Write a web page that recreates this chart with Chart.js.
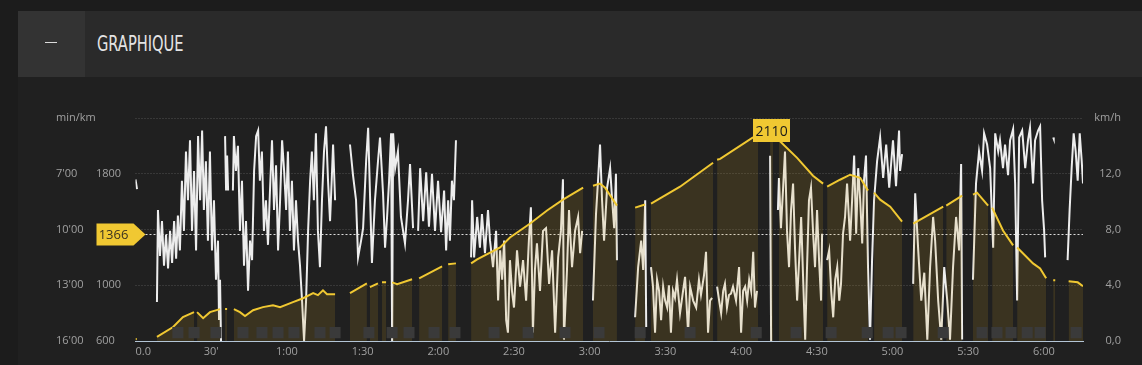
<!DOCTYPE html>
<html lang="fr">
<head>
<meta charset="utf-8">
<title>Graphique</title>
<script src="https://cdn.jsdelivr.net/npm/chart.js@4.4.1/dist/chart.umd.min.js"></script>
<style>
  html, body { margin: 0; padding: 0; }
  body { width: 1142px; height: 365px; overflow: hidden; background: #1c1c1c; position: relative; font-family: "Open Sans", sans-serif; }
  .panel { position: absolute; left: 18px; top: 11px; right: 0; bottom: 0; background: #202020; }
  .header { position: relative; height: 66px; background: #2a2a2a; }
  .toggle { position: absolute; left: 0; top: 0; width: 67px; height: 66px; background: #333; }
  .toggle span { position: absolute; left: 27px; top: 31px; width: 12px; height: 1px; background: #dcdcdc; }
  .title { position: absolute; left: 79px; top: 0; line-height: 66px; color: #e4e4e4; font-family: "DejaVu Sans Condensed", "DejaVu Sans", sans-serif; font-size: 22px; transform: scaleX(0.74); transform-origin: left center; }
  #chart { position: absolute; left: 0; top: 66px; }
</style>
</head>
<body>
<div class="panel">
  <div class="header">
    <div class="toggle"><span></span></div>
    <div class="title">GRAPHIQUE</div>
  </div>
  <canvas id="chart" width="1124" height="288"></canvas>
</div>
<script>
// graphique : altitude (m) + vitesse (km/h) sur le temps (min)

const xTicks = [0, 30, 60, 90, 120, 150, 180, 210, 240, 270, 300, 330, 360, 375.5];
const xLabels = ["0.0", "30'", "1:00", "1:30", "2:00", "2:30", "3:00", "3:30", "4:00", "4:30", "5:00", "5:30", "6:00", ""];

const paceTicks = [4, 7, 10, 13, 16];
const paceLabels = ["min/kmm", "7'00", "10'00", "13'00", "16'00"];
const altTicks = [600, 1000, 1800];
const altLabels = ["600", "1000", "1800"];
const speedTicks = [0, 4, 8, 12, 16];
const speedLabels = ["0,0", "4,0", "8,0", "12,0", "km/h"];

const refAltitude = 1366;

// [temps, altitude] - null = coupure
const altPoints = [
  [0, 614], [0.5, 614], null,
  [8.5, 629], [14.9, 700], [18.8, 771], [23.2, 807], null,
  [24.4, 807], [26.8, 764], [29.5, 807], [33.5, 829], null,
  [35.5, 829], [36.3, 829], null,
  [39.0, 829], [41.4, 807], [43.4, 779], [46.6, 821], [50.5, 843], [54.5, 857], [57.3, 843], [62.4, 879], [66.4, 907], [70.4, 943], [72.3, 929], [74.3, 964], [75.9, 936], [79.1, 936], null,
  [85.0, 943], [91.7, 1014], null,
  [92.9, 986], [96.1, 1014], null,
  [97.7, 1021], [99.3, 1021], null,
  [101.7, 1021], [103.7, 1007], [109.6, 1043], null,
  [112.4, 1050], [121.5, 1136], null,
  [123.9, 1150], [127.0, 1157], null,
  [133.0, 1157], [135.4, 1186], [144.5, 1271], [148.4, 1343], [156.4, 1443], [163.1, 1536], [169.4, 1614], [177.4, 1700], null,
  [181.3, 1714], [184.1, 1729], [186.1, 1700], [190.8, 1571], null,
  [198.0, 1557], [201.9, 1579], null,
  [204.3, 1586], [215.8, 1707], [228.9, 1879], null,
  [230.5, 1900], [231.7, 1907], [244.4, 2057], [246.7, 2075], null,
  [251.5, 2100], [252.1, 2110], [252.7, 2100], null,
  [255.0, 2040], [262.2, 1914], [268.5, 1786], [272.5, 1729], null,
  [274.1, 1707], [279.2, 1757], [283.2, 1793], [287.2, 1771], [290.3, 1679], null,
  [292.7, 1664], [295.1, 1614], [299.1, 1564], [303.8, 1457], null,
  [308.2, 1443], [320.1, 1564], null,
  [321.3, 1571], [327.6, 1643], null,
  [331.9, 1650], [333.5, 1664], [337.9, 1571], null,
  [339.5, 1557], [343.8, 1393], [347.8, 1286], null,
  [349.4, 1271], [355.7, 1157], [358.5, 1121], [360.9, 1050], null,
  [363.7, 1036], [364.5, 1036], null,
  [369.8, 1029], [373.4, 1021], [375.5, 993]
];

// [temps, vitesse km/h]
const speedPoints = [
  [0, 11.6], [0.6, 10.9], null,
  [8.5, 2.8], [8.9, 9.4], [9.7, 6.1], [10.5, 8.6], [11.3, 5.4], [12.1, 7.6], [12.9, 5.2], [13.7, 7.9], [14.5, 5.6], [15.3, 8.6], [16.1, 5.9], [16.8, 9.0], [17.6, 6.5], [18.4, 11.5], [19.2, 7.9], [20.0, 13.6], [20.8, 10.1], [21.6, 14.4], [22.4, 7.9], [23.2, 12.2], [24.0, 6.5], [24.8, 14.7], [25.6, 10.1], [26.4, 15.1], [27.1, 9.4], [27.9, 12.9], [28.7, 7.2], [29.5, 13.6], [30.3, 6.5], [31.1, 10.1], [31.9, 4.4], [32.7, 7.2], [33.1, 1.5], [33.5, 4.4], [33.9, 0], null,
  [35.5, 14.7], [35.9, 10.8], [36.3, 13.3], [36.7, 10.8], null,
  [38.6, 10.8], [39.0, 14.7], [39.8, 12.2], [40.6, 14.0], [41.4, 7.9], [42.2, 11.5], [43.0, 5.4], [43.8, 8.6], [44.6, 3.6], [45.4, 7.2], [46.2, 5.8], [47.0, 12.2], [47.8, 14.7], [48.6, 15.1], [49.3, 11.5], [50.1, 13.6], [50.9, 7.9], [51.7, 10.1], [52.5, 6.9], [53.3, 10.8], [54.1, 14.4], [54.9, 9.4], [55.7, 12.6], [56.5, 6.5], [57.3, 10.1], [58.1, 14.4], [58.9, 12.2], [59.7, 9.4], [60.4, 13.6], [61.2, 7.9], [62.0, 11.5], [62.8, 6.5], [63.6, 10.1], [64.4, 7.2], [65.2, 5.4], [66.0, 2.9], [66.8, 0], [67.6, 2.9], [68.4, 7.9], [69.2, 11.5], [69.9, 13.6], [70.7, 10.1], [71.5, 14.9], [72.3, 7.9], [73.1, 5.3], [73.9, 10.1], [74.7, 13.6], [75.5, 15.4], [76.3, 11.5], [77.1, 8.6], [77.9, 12.2], [78.3, 14.1], [79.1, 10.1], null,
  [85.0, 14.1], [86.2, 11.9], [87.4, 10.1], [88.2, 6.0], [89.4, 7.2], [90.2, 8.1], [91.4, 12.9], [92.2, 15.3], [93.0, 10.1], [93.7, 5.6], [94.9, 10.1], [96.1, 12.9], [96.9, 14.6], [98.1, 10.6], [98.9, 6.7], [99.7, 8.9], [100.5, 11.5], [101.3, 14.9], [101.7, 0], [102.1, 14.9], [102.9, 12.4], [104.0, 13.6], [105.2, 8.9], [106.8, 7.0], [108.0, 10.1], [108.8, 12.7], [110.0, 8.1], null,
  [112.0, 7.9], [112.8, 12.4], [114.0, 8.6], [115.2, 12.1], [116.3, 8.2], [117.5, 12.0], [118.7, 7.9], [119.9, 11.5], [121.1, 7.8], [122.3, 10.8], [123.1, 6.5], [123.9, 10.1], [124.6, 7.2], [125.4, 11.5], [126.2, 10.1], [127.0, 14.4], null,
  [133.0, 6.0], [133.4, 10.1], [134.2, 6.0], [135.4, 8.9], [136.5, 6.7], [137.3, 9.1], [138.5, 6.3], [139.7, 9.4], [140.5, 7.2], [141.7, 5.3], [142.9, 7.9], [143.7, 2.9], [144.5, 6.5], [145.3, 4.4], [146.1, 7.2], [146.9, 1.5], [147.6, 0.6], [148.4, 5.8], [149.2, 3.6], [150.0, 2.4], [151.2, 6.5], [152.4, 3.9], [153.6, 5.8], [154.8, 2.9], [155.9, 7.2], [156.7, 9.6], [157.5, 0.6], [158.3, 5.1], [159.1, 7.0], [160.3, 3.6], [161.5, 7.9], [162.7, 8.1], [163.9, 4.1], [165.1, 6.5], [166.3, 0.6], [167.5, 6.0], [168.6, 7.9], [169.4, 11.6], [169.8, 0.1], [171.0, 5.1], [171.8, 9.4], [173.0, 5.3], [174.2, 7.9], [175.4, 8.9], [176.2, 6.3], [177.0, 7.9], null,
  [181.3, 2.9], [182.5, 9.1], [183.3, 11.5], [184.1, 14.1], [184.9, 10.1], [185.7, 7.2], [186.9, 11.0], [188.1, 12.4], [188.9, 10.1], [189.7, 8.1], [190.4, 12.0], [190.8, 5.8], null,
  [198.0, 1.7], [199.2, 5.3], [200.4, 7.2], [201.2, 5.1], [202.0, 10.1], [202.4, 1.0], null,
  [204.3, 5.3], [205.1, 3.9], [205.9, 0.6], [206.7, 4.4], [207.5, 3.6], [208.3, 1.5], [209.1, 3.9], [209.9, 2.9], [210.7, 2.4], [211.4, 4.0], [212.2, 0.6], [213.0, 3.6], [213.8, 3.1], [214.6, 4.4], [215.8, 2.0], [217.0, 3.6], [217.8, 4.6], [219.0, 0.6], [219.8, 3.9], [221.0, 2.9], [222.2, 2.4], [223.3, 4.4], [224.1, 3.3], [225.3, 4.7], [226.1, 6.4], [226.9, 0.6], [227.7, 2.9], [228.5, 3.1], null,
  [230.5, 3.9], [231.3, 2.9], [232.1, 2.0], [232.9, 3.6], [233.6, 4.1], [234.4, 2.4], [235.2, 3.3], [236.0, 3.4], [236.8, 3.9], [238.0, 2.9], [239.2, 5.3], [240.0, 0.6], [240.8, 3.6], [241.6, 3.9], [242.4, 2.9], [243.2, 4.4], [244.0, 3.6], [244.8, 6.4], [245.5, 2.4], [246.3, 3.6], null,
  [251.5, 13.3], [251.9, 0], null,
  [254.6, 9.4], [255.0, 11.7], [255.8, 8.1], [256.6, 10.8], [257.4, 13.6], [258.2, 7.9], [259.0, 5.3], [259.8, 9.4], [260.6, 11.3], [261.4, 6.5], [262.2, 2.9], [263.0, 5.8], [263.8, 8.9], [264.6, 4.4], [265.4, 0.1], [266.1, 5.1], [266.9, 10.1], [267.7, 11.0], [268.5, 7.9], [269.3, 5.3], [270.1, 9.4], [270.9, 5.8], [271.7, 2.9], [272.1, 7.7], null,
  [274.1, 5.8], [274.9, 6.5], [275.7, 3.6], [276.5, 1.7], [277.3, 4.4], [278.1, 5.3], [278.9, 2.9], [279.6, 4.1], [280.4, 7.7], [281.2, 8.9], [282.0, 11.3], [283.2, 7.2], [284.0, 10.1], [284.8, 13.3], [285.6, 7.7], [286.4, 12.4], [287.2, 10.1], [288.0, 7.0], [288.7, 11.5], [289.5, 13.3], [290.3, 5.3], [291.1, 0.1], [291.9, 5.8], [292.7, 10.1], [293.9, 12.9], [295.1, 14.6], [296.3, 11.7], [297.5, 14.1], [298.7, 11.0], [300.2, 14.4], [301.4, 11.1], [302.6, 15.1], [303.0, 12.2], [303.8, 13.4], null,
  [308.2, 4.1], [309.0, 10.6], [310.2, 6.5], [311.4, 2.9], [312.6, 4.9], [313.8, 0.1], [314.9, 5.3], [316.1, 8.9], [316.9, 7.2], [318.1, 2.9], [319.3, 0.1], [320.5, 5.3], [321.7, 2.9], [322.8, 0.1], [324.0, 5.3], [325.2, 8.9], [326.4, 6.5], [327.2, 12.7], [327.6, 0.1], null,
  [331.9, 4.4], [333.1, 11.3], [334.3, 13.6], [335.5, 12.2], [336.3, 14.9], [337.5, 14.1], [338.7, 12.4], [339.9, 6.7], [340.7, 14.9], [341.9, 13.6], [342.6, 14.4], [343.8, 12.4], [344.6, 14.1], [345.8, 11.9], [346.6, 14.4], [347.8, 15.2], [348.6, 11.3], [349.4, 2.9], [350.2, 14.6], [351.4, 15.1], [352.6, 12.4], [353.7, 14.4], [354.5, 15.3], [355.7, 11.3], [356.5, 14.4], [357.7, 15.1], [358.5, 15.4], [359.3, 10.1], [360.1, 7.9], [360.5, 6.0], null,
  [363.7, 14.6], [363.9, 14.5], null,
  [369.4, 5.8], [370.2, 9.4], [371.0, 12.4], [371.8, 14.9], [372.6, 13.6], [373.4, 11.5], [374.2, 14.9], [375.0, 12.9], [375.5, 11.3]
];

// repères (pauses / photos)
const markerTimes = [16.8, 23.2, 31.9, 42.6, 50.1, 56.5, 62.8, 73.1, 79.1, 92.5, 101.7, 108.4, 118.3, 126.6, 142.1, 155.6, 170.2, 183.7, 200.0, 219.8, 246.0, 261.8, 275.7, 290.0, 298.3, 303.4, 320.1, 335.5, 341.4, 347.0, 353.4, 358.5, 372.8];
const markerLevel = 0.6;

function toXY(points) {
  let lastX = 0;
  return points.map(p => {
    if (!p) return { x: lastX + 0.01, y: null };
    lastX = p[0];
    return { x: p[0], y: p[1] };
  });
}

const peak = altPoints.filter(p => p).reduce((a, b) => (b[1] > a[1] ? b : a));

const tickFont = { family: "Open Sans", size: 11 };
const tickColor = "#a0a0a0";

function fixedTicks(values) {
  return scale => { scale.ticks = values.map(v => ({ value: v })); };
}

const tags = {
  id: "tags",
  beforeDatasetsDraw(chart) {
    const { ctx, chartArea, scales } = chart;
    const y = Math.round(scales.yAlt.getPixelForValue(refAltitude)) + 0.5;
    ctx.save();
    ctx.strokeStyle = "rgba(255,255,255,0.85)";
    ctx.lineWidth = 1;
    ctx.setLineDash([2, 2]);
    ctx.beginPath();
    ctx.moveTo(chartArea.left + 10, y);
    ctx.lineTo(chartArea.right, y);
    ctx.stroke();
    ctx.restore();
  },
  afterDatasetsDraw(chart) {
    const { ctx, chartArea, scales } = chart;
    ctx.save();
    // étiquette altitude de référence
    const y = Math.round(scales.yAlt.getPixelForValue(refAltitude)) + 0.5;
    const l = chartArea.left;
    ctx.fillStyle = "#f0c832";
    ctx.beginPath();
    ctx.moveTo(l - 39, y - 11);
    ctx.lineTo(l - 2, y - 11);
    ctx.lineTo(l + 10, y);
    ctx.lineTo(l - 2, y + 11);
    ctx.lineTo(l - 39, y + 11);
    ctx.closePath();
    ctx.fill();
    ctx.fillStyle = "#3a3220";
    ctx.font = "13px 'Open Sans'";
    ctx.textAlign = "center";
    ctx.textBaseline = "middle";
    ctx.fillText(String(refAltitude), l - 22, y + 1);

    // étiquette du point culminant
    const px = scales.x.getPixelForValue(peak[0]);
    const py = scales.yAlt.getPixelForValue(peak[1]);
    ctx.fillStyle = "#f0c832";
    ctx.fillRect(Math.round(px - 18.5), Math.round(py - 11.5), 37, 23);
    ctx.fillStyle = "#1a1a1a";
    ctx.font = "14px 'Open Sans'";
    ctx.fillText(String(peak[1]), px, py + 1);
    ctx.restore();
  }
};

new Chart(document.getElementById("chart"), {
  type: "line",
  data: {
    datasets: [
      {
        label: "repères",
        data: markerTimes.map(t => ({ x: t, y: markerLevel })),
        yAxisID: "ySpeed",
        showLine: false,
        pointStyle: "rect",
        pointRadius: 7.8,
        pointBackgroundColor: "#3a3a3a",
        pointBorderWidth: 0,
        pointBorderColor: "rgba(0,0,0,0)",
        order: 0
      },
      {
        label: "altitude",
        data: toXY(altPoints),
        yAxisID: "yAlt",
        borderColor: "#f0c832",
        borderWidth: 2,
        backgroundColor: "rgba(200,155,40,0.16)",
        fill: "start",
        pointRadius: 0,
        spanGaps: false,
        order: 1
      },
      {
        label: "vitesse",
        data: toXY(speedPoints),
        yAxisID: "ySpeed",
        borderColor: "#ededed",
        borderWidth: 2,
        fill: false,
        pointRadius: 0,
        spanGaps: false,
        order: 2
      }
    ]
  },
  options: {
    responsive: false,
    animation: false,
    devicePixelRatio: 1,
    events: [],
    layout: { padding: { left: 38, right: 21, top: 41, bottom: 0 } },
    plugins: { legend: { display: false }, tooltip: { enabled: false } },
    scales: {
      x: {
        type: "linear",
        min: 0,
        max: 375.5,
        afterBuildTicks: fixedTicks(xTicks),
        afterFit: s => { s.height = 24; },
        ticks: {
          autoSkip: false,
          maxRotation: 0,
          align: "inner",
          padding: 4,
          color: tickColor,
          font: tickFont,
          callback: (v, i) => xLabels[i]
        },
        grid: { display: false, drawTicks: false },
        border: { display: true, color: "#b3c5d6", width: 1 }
      },
      yPace: {
        position: "left",
        weight: 1,
        reverse: true,
        min: 4,
        max: 16,
        afterBuildTicks: fixedTicks(paceTicks),
        afterFit: s => { s.width = 40; },
        ticks: { crossAlign: "far", color: tickColor, font: tickFont, callback: (v, i) => paceLabels[i] },
        grid: { display: false, drawTicks: false },
        border: { display: false }
      },
      yAlt: {
        position: "left",
        weight: 0,
        min: 600,
        max: 2200,
        afterBuildTicks: fixedTicks(altTicks),
        afterFit: s => { s.width = 39.5; },
        ticks: { crossAlign: "far", color: tickColor, font: tickFont, callback: (v, i) => altLabels[i] },
        grid: { display: false, drawTicks: false },
        border: { display: false }
      },
      ySpeed: {
        position: "right",
        min: 0,
        max: 16,
        afterBuildTicks: fixedTicks(speedTicks),
        afterFit: s => { s.width = 38; },
        ticks: { crossAlign: "far", color: tickColor, font: tickFont, callback: (v, i) => speedLabels[i] },
        grid: {
          drawTicks: false,
          lineWidth: 1,
          color: c => (c.tick && c.tick.value === 0 ? "rgba(0,0,0,0)" : "#505050")
        },
        border: { display: false, dash: [1, 2] }
      }
    }
  },
  plugins: [tags]
});
</script>
</body>
</html>
